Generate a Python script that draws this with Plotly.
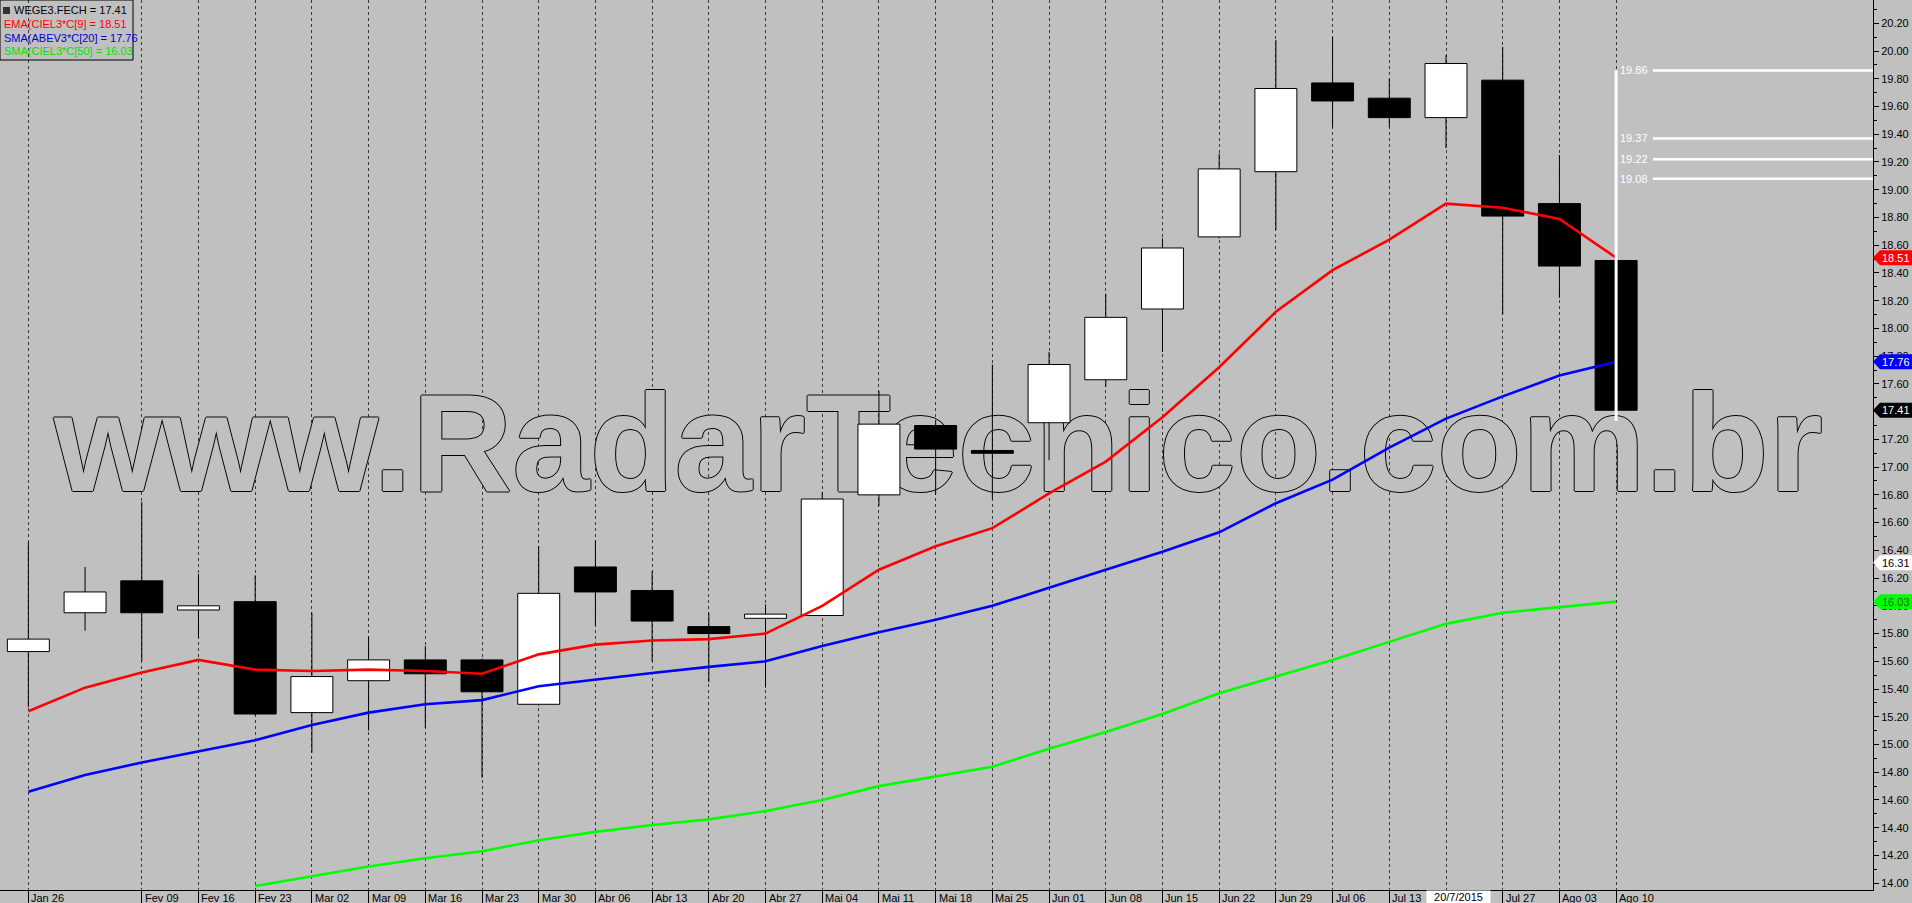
import plotly.graph_objects as go

# ---------------- data ----------------
weeks = ["Jan 26", "Fev 02", "Fev 09", "Fev 16", "Fev 23", "Mar 02", "Mar 09", "Mar 16",
         "Mar 23", "Mar 30", "Abr 06", "Abr 13", "Abr 20", "Abr 27", "Mai 04", "Mai 11",
         "Mai 18", "Mai 25", "Jun 01", "Jun 08", "Jun 15", "Jun 22", "Jun 29", "Jul 06",
         "Jul 13", "Jul 20", "Jul 27", "Ago 03", "Ago 10"]
axis_labels = ["Jan 26", "", "Fev 09", "Fev 16", "Fev 23", "Mar 02", "Mar 09", "Mar 16",
               "Mar 23", "Mar 30", "Abr 06", "Abr 13", "Abr 20", "Abr 27", "Mai 04", "Mai 11",
               "Mai 18", "Mai 25", "Jun 01", "Jun 08", "Jun 15", "Jun 22", "Jun 29", "Jul 06",
               "Jul 13", "20/7/2015", "Jul 27", "Ago 03", "Ago 10"]
highlight_label = "20/7/2015"

opens = [15.67, 15.95, 16.18, 15.97, 16.03, 15.23, 15.46, 15.61, 15.61, 15.29, 16.28, 16.11,
         15.85, 15.91, 15.93, 16.80, 17.30, 17.12, 17.32, 17.63, 18.14, 18.66, 19.13, 19.77,
         19.66, 19.52, 19.79, 18.90, 18.49]
highs = [16.46, 16.28, 16.75, 16.23, 16.22, 15.95, 15.78, 15.71, 15.62, 16.43, 16.47, 16.25,
         15.95, 16.01, 16.82, 17.55, 17.34, 17.74, 17.83, 18.25, 18.65, 19.26, 20.08, 20.10,
         19.80, 19.97, 20.03, 19.25, 18.51]
lows = [15.27, 15.82, 15.60, 15.77, 15.21, 14.94, 15.10, 15.12, 14.76, 15.28, 15.86, 15.60,
        15.45, 15.41, 15.93, 16.72, 16.80, 16.77, 17.05, 17.58, 17.83, 18.65, 18.71, 19.45,
        19.45, 19.30, 18.10, 18.22, 17.33]
closes = [15.76, 16.10, 15.95, 16.00, 15.22, 15.49, 15.61, 15.51, 15.38, 16.09, 16.10, 15.89,
          15.80, 15.94, 16.77, 17.31, 17.13, 17.10, 17.74, 18.08, 18.58, 19.15, 19.73, 19.64,
          19.52, 19.91, 18.81, 18.45, 17.41]

ema9 = [15.24, 15.41, 15.52, 15.61, 15.54, 15.53, 15.54, 15.53, 15.51, 15.65, 15.72, 15.75,
        15.76, 15.80, 16.00, 16.26, 16.43, 16.56, 16.81, 17.04, 17.36, 17.72, 18.12, 18.42,
        18.64, 18.90, 18.87, 18.79, 18.51]
sma20 = [14.66, 14.78, 14.87, 14.95, 15.03, 15.14, 15.23, 15.29, 15.32, 15.42, 15.47, 15.515,
         15.56, 15.60, 15.71, 15.81, 15.90, 16.00, 16.13, 16.26, 16.39, 16.53, 16.74, 16.91,
         17.14, 17.35, 17.51, 17.66, 17.76]
sma50 = [None, None, None, None, 13.98, 14.05, 14.12, 14.18, 14.23, 14.31, 14.37, 14.42,
         14.46, 14.52, 14.60, 14.70, 14.77, 14.84, 14.97, 15.09, 15.22, 15.37, 15.49, 15.61,
         15.74, 15.87, 15.95, 15.99, 16.03]

levels = [19.86, 19.37, 19.22, 19.08]
range_low = 17.33

legend_lines = [("WEGE3.FECH = 17.41", "#000000"),
                ("EMA(CIEL3*C[9] = 18.51", "#FF0000"),
                ("SMA(ABEV3*C[20] = 17.76", "#0000CC"),
                ("SMA(CIEL3*C[50] = 16.03", "#00E000")]

badges = [(18.51, "#FF0000", "#FFFFFF"),
          (17.76, "#0000FF", "#FFFFFF"),
          (17.41, "#000000", "#FFFFFF"),
          (16.31, "#FFFFFF", "#000000"),
          (16.03, "#00FF00", "#2B5F2B")]

watermark = "www.RadarTecnico.com.br"

# ---------------- layout geometry ----------------
W, H = 1912, 903
ML, MR, MT, MB = 0, 39, 0, 13
PW, PH = W - ML - MR, H - MT - MB
X_RANGE = [-0.5, 32.53]
Y_RANGE = [13.951, 20.368]
BG = "#C0C0C0"
FONT = "Liberation Sans"
BODY_HALF = 0.37

x = list(range(len(weeks)))
fig = go.Figure()

# watermark (outlined text, beneath the candles)
fig.add_trace(go.Scatter(
    x=[16.05], y=[17.08], mode="text", text=[watermark], textposition="middle center",
    textfont=dict(family=FONT, size=139, weight="bold", color=BG,
                  shadow="1px 0px 0px #000, -1px 0px 0px #000, 0px 1px 0px #000, 0px -1px 0px #000"),
    hoverinfo="skip", showlegend=False))

# wicks
wx, wy = [], []
for i, (h, l) in enumerate(zip(highs, lows)):
    wx += [i, i, None]
    wy += [l, h, None]
fig.add_trace(go.Scatter(x=wx, y=wy, mode="lines", line=dict(color="#000", width=1),
                         hoverinfo="skip", showlegend=False))

# bodies (filled polygons so they sit above wicks and watermark)
for up, fill in [(True, "#FFFFFF"), (False, "#000000")]:
    bx, by = [], []
    for i, (o, c) in enumerate(zip(opens, closes)):
        if (c >= o) != up:
            continue
        lo, hi = min(o, c), max(o, c)
        bx += [i - BODY_HALF, i + BODY_HALF, i + BODY_HALF, i - BODY_HALF, i - BODY_HALF, None]
        by += [lo, lo, hi, hi, lo, None]
    fig.add_trace(go.Scatter(x=bx, y=by, mode="lines", fill="toself", fillcolor=fill,
                             line=dict(color="#000", width=1), hoverinfo="skip",
                             showlegend=False))

# moving averages
for series, col in [(sma50, "#00FF00"), (sma20, "#0000FF"), (ema9, "#FF0000")]:
    fig.add_trace(go.Scatter(x=x, y=series, mode="lines", line=dict(color=col, width=2.6),
                             hoverinfo="skip", showlegend=False, connectgaps=False))

# vertical white range line at last candle
last = x[-1]
fig.add_trace(go.Scatter(x=[last, last], y=[range_low, levels[0]], mode="lines",
                         line=dict(color="#FFFFFF", width=3), hoverinfo="skip", showlegend=False))

shapes = []
annotations = []

# level lines + labels
for v in levels:
    shapes.append(dict(type="line", xref="x", yref="y", x0=last + 0.65, x1=X_RANGE[1] + 1,
                       y0=v, y1=v, line=dict(color="#FFFFFF", width=2.5), layer="above"))
    annotations.append(dict(xref="x", yref="y", x=last + 0.6, y=v, text=f"{v:.2f}",
                            showarrow=False, xanchor="right", yanchor="middle",
                            font=dict(family=FONT, size=11, color="#FFFFFF")))

# bottom axis labels (left aligned after each tick)
tick_idx = [i for i, t in enumerate(axis_labels) if t]
for i in tick_idx:
    t = axis_labels[i]
    if t == highlight_label:
        annotations.append(dict(xref="x", yref="paper", x=i, y=0, text=t, showarrow=False,
                                xanchor="left", yanchor="top", xshift=-20, width=63,
                                align="center", bgcolor="#FFFFFF", borderpad=0,
                                font=dict(family=FONT, size=11, color="#000")))
    else:
        annotations.append(dict(xref="x", yref="paper", x=i, y=0, text=t, showarrow=False,
                                xanchor="left", yanchor="top", xshift=1,
                                font=dict(family=FONT, size=11, color="#000")))

# legend box top-left
shapes.append(dict(type="rect", xref="paper", yref="paper", x0=0, x1=133 / PW,
                   y0=1 - 60 / PH, y1=1, line=dict(color="#000", width=1), fillcolor="rgba(0,0,0,0)"))
shapes.append(dict(type="rect", xref="paper", yref="paper", x0=3 / PW, x1=10 / PW,
                   y0=1 - 14 / PH, y1=1 - 7 / PH, line=dict(width=0), fillcolor="#333"))
for k, (txt, col) in enumerate(legend_lines):
    annotations.append(dict(xref="paper", yref="paper", x=(12 if k == 0 else 2) / PW,
                            y=1 - (10 + 13.8 * k) / PH, text=txt, showarrow=False,
                            xanchor="left", yanchor="middle",
                            font=dict(family=FONT, size=11, color=col)))

# value badges on the right axis
for v, bg, fg in badges:
    shapes.append(dict(type="path", xref="paper", yref="y", xsizemode="pixel", ysizemode="pixel",
                       xanchor=1, yanchor=v, path="M 0 0 L 7 7.5 L 45 7.5 L 45 -7.5 L 7 -7.5 Z",
                       fillcolor=bg, line=dict(width=0), layer="above"))
    annotations.append(dict(xref="paper", yref="y", x=1, y=v, text=f"{v:.2f}", showarrow=False,
                            xanchor="left", yanchor="middle", xshift=7,
                            font=dict(family=FONT, size=11, color=fg)))

fig.update_layout(
    width=W, height=H, margin=dict(l=ML, r=MR, t=MT, b=MB, pad=0),
    paper_bgcolor=BG, plot_bgcolor=BG, showlegend=False, hovermode=False,
    shapes=shapes, annotations=annotations,
    xaxis=dict(range=X_RANGE, tickvals=tick_idx, showticklabels=False,
               ticks="outside", ticklen=13, tickcolor="#000", tickwidth=1,
               showgrid=True, gridcolor="#3a3a3a", gridwidth=1, griddash="3px,3px",
               showline=True, linecolor="#000", linewidth=1, zeroline=False, fixedrange=True),
    yaxis=dict(range=Y_RANGE, side="right", dtick=0.2, tick0=14, tickformat=".2f",
               ticks="outside", ticklen=5, tickcolor="#000", showgrid=False, zeroline=False,
               showline=True, linecolor="#000", linewidth=1,
               tickfont=dict(family=FONT, size=11, color="#000"),
               minor=dict(dtick=0.1, ticks="outside", ticklen=3, tickcolor="#000"),
               fixedrange=True),
)

fig.write_html("out.html", config={"displayModeBar": False},
               post_script="document.body.style.margin='0px';document.body.style.overflow='hidden';")
